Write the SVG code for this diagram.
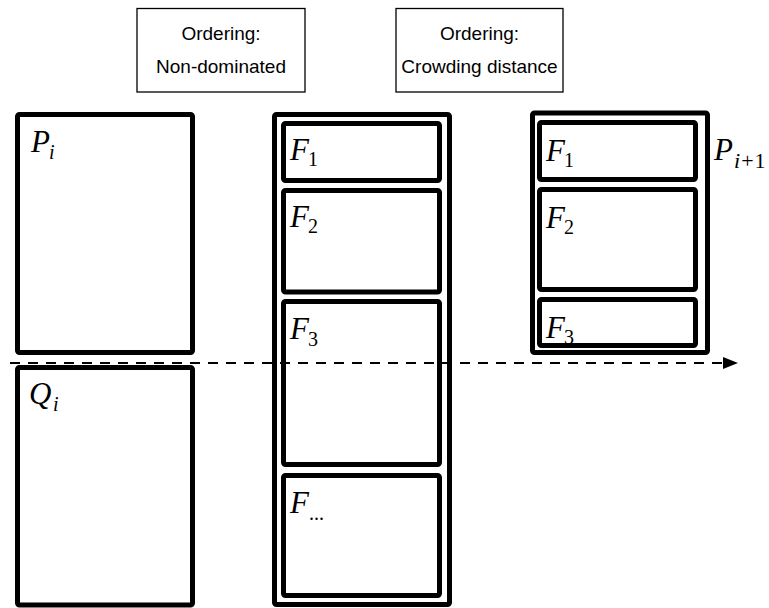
<svg xmlns="http://www.w3.org/2000/svg" width="769" height="608" viewBox="0 0 769 608">
<style>
.lbl{fill:#fff;stroke:#000;stroke-width:1.3}
.lt{font-family:"Liberation Sans",Arial,sans-serif;font-size:19px;fill:#000;text-anchor:middle}
.box{fill:#fff;stroke:#000;stroke-width:5;stroke-linejoin:round}
.m{font-family:"Liberation Serif","Times New Roman",serif;font-style:italic;font-size:31px;fill:#000}
.s{font-family:"Liberation Serif","Times New Roman",serif;font-size:20px;fill:#000}
.si{font-style:italic}
.conn{stroke:#000;stroke-width:2;stroke-dasharray:10 8;fill:none}
</style>
<defs>
<marker id="ah" markerWidth="15" markerHeight="12" refX="0" refY="6" orient="auto" markerUnits="userSpaceOnUse">
<path d="M0,0 L15,6 L0,12 Z" fill="#000"/>
</marker>
</defs>
<g id="label-nondominated">
<rect class="lbl" x="137" y="8.5" width="168" height="83.5"/>
<text class="lt" x="221" y="39.5">Ordering:</text>
<text class="lt" x="221" y="73">Non-dominated</text>
</g>
<g id="label-crowding">
<rect class="lbl" x="396" y="8.5" width="167" height="83.5"/>
<text class="lt" x="479.5" y="39.5">Ordering:</text>
<text class="lt" x="479.5" y="73">Crowding distance</text>
</g>
<g id="Pi">
<rect class="box" x="17.5" y="114.5" width="175" height="238" rx="2"/>
<text class="m" x="31" y="152">P</text><text class="s si" x="49" y="159">i</text>
</g>
<g id="Qi">
<rect class="box" x="17.5" y="367.5" width="175" height="237.5" rx="2"/>
<text class="m" x="29" y="404">Q</text><text class="s si" x="53" y="411">i</text>
</g>
<g id="fronts">
<rect class="box" x="274.5" y="114.5" width="175" height="490" rx="2"/>
<g id="F1">
<rect class="box" x="283.5" y="123.5" width="156" height="57" rx="2"/>
<text class="m" x="290" y="160">F</text><text class="s" x="308" y="166">1</text>
</g>
<g id="F2">
<rect class="box" x="283.5" y="190.5" width="156" height="101.5" rx="2"/>
<text class="m" x="290" y="227">F</text><text class="s" x="308" y="233">2</text>
</g>
<g id="F3">
<rect class="box" x="283.5" y="301.5" width="156" height="163" rx="2"/>
<text class="m" x="290" y="339">F</text><text class="s" x="308" y="346">3</text>
</g>
<g id="Fdots">
<rect class="box" x="283.5" y="475.5" width="156" height="120" rx="2"/>
<text class="m" x="290" y="513">F</text><text class="s" x="309" y="520">...</text>
</g>
</g>
<g id="Pi1">
<rect class="box" x="532.5" y="113" width="175" height="239.5" rx="2"/>
<g id="Pi1-F1">
<rect class="box" x="539.5" y="122.5" width="156" height="57" rx="2"/>
<text class="m" x="546" y="161">F</text><text class="s" x="564" y="167">1</text>
</g>
<g id="Pi1-F2">
<rect class="box" x="539.5" y="189.5" width="156" height="100" rx="2"/>
<text class="m" x="546" y="228">F</text><text class="s" x="564" y="234">2</text>
</g>
<g id="Pi1-F3">
<rect class="box" x="539.5" y="299.5" width="156" height="46" rx="2"/>
<text class="m" x="546" y="338">F</text><text class="s" x="564" y="344">3</text>
</g>
<text class="m" x="714" y="160">P</text><text class="s" x="734" y="168" style="font-size:22px"><tspan class="si">i</tspan><tspan dx="1">+</tspan><tspan dx="1">1</tspan></text>
</g>
<g id="connectors">
<line class="conn" x1="10" y1="363" x2="723" y2="363" marker-end="url(#ah)"/>
</g>
</svg>
